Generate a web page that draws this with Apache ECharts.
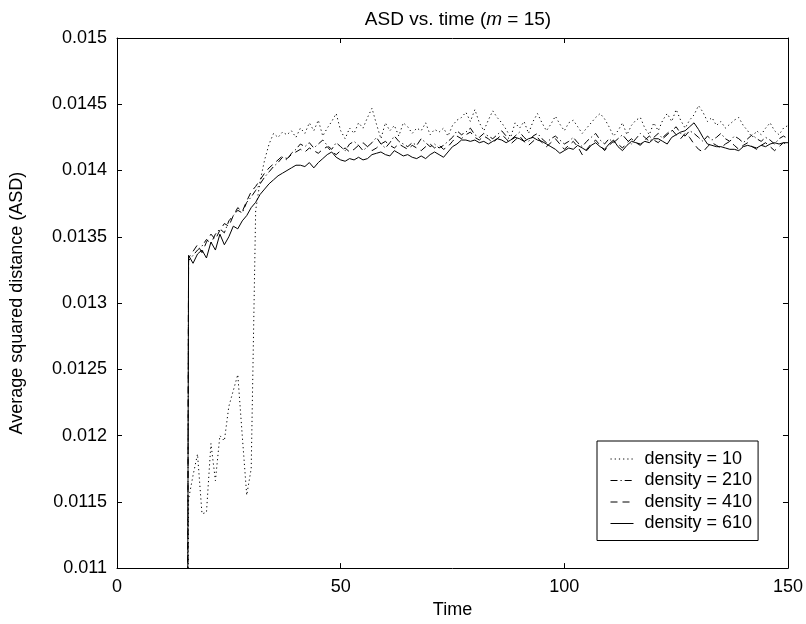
<!DOCTYPE html>
<html>
<head>
<meta charset="utf-8">
<script src="https://cdn.jsdelivr.net/npm/echarts@6/dist/echarts.min.js"></script>
<style>html,body{margin:0;padding:0;background:#fff}#c{width:806px;height:624px}</style>
</head>
<body>
<div id="c"></div>
<script>
// Time steps: one sample per integer time from 15 to 150 (value at t=15 is below the axis range)
const startTime = 15;
const xTicks = [0, 50, 100, 150];
const yTicks = [0.011, 0.0115, 0.012, 0.0125, 0.013, 0.0135, 0.014, 0.0145, 0.015];
const seriesNames = ['density = 10', 'density = 210', 'density = 410', 'density = 610'];

const density10 = [0,
0.01152,0.01170,0.01186,0.01141,0.01142,0.01194,0.01166,0.01200,0.01196,0.01222,
0.01234,0.01246,0.01200,0.01155,0.01175,0.01370,0.01392,0.01408,0.01420,0.01428,
0.01425,0.01429,0.01427,0.01430,0.01425,0.01432,0.01428,0.01436,0.01430,0.01438,
0.01426,0.01432,0.01437,0.01443,0.01430,0.01424,0.01432,0.01428,0.01436,0.01432,
0.01440,0.01447,0.01435,0.01424,0.01436,0.01430,0.01434,0.01426,0.01436,0.01433,
0.01428,0.01432,0.01430,0.01436,0.01427,0.01431,0.01429,0.01432,0.01426,0.01434,
0.01438,0.01440,0.01444,0.01437,0.01446,0.01436,0.01430,0.01438,0.01445,0.01440,
0.01436,0.01431,0.01425,0.01436,0.01432,0.01437,0.01428,0.01437,0.01443,0.01436,
0.01430,0.01435,0.01441,0.01435,0.01430,0.01436,0.01438,0.01433,0.01428,0.01432,
0.01436,0.01440,0.01443,0.01439,0.01433,0.01426,0.01430,0.01436,0.01427,0.01434,
0.01438,0.01440,0.01432,0.01427,0.01436,0.01430,0.01438,0.01443,0.01437,0.01446,
0.01438,0.01432,0.01438,0.01442,0.01449,0.01444,0.01437,0.01440,0.01434,0.01437,
0.01432,0.01435,0.01438,0.01440,0.01434,0.01430,0.01425,0.01430,0.01427,0.01432,
0.01436,0.01430,0.01427,0.01432,0.01434];

const density210 = [0,
0.01332,0.01336,0.01340,0.01343,0.01348,0.01345,0.01352,0.01356,0.01353,0.01362,
0.01366,0.01370,0.01368,0.01376,0.01380,0.01385,0.01390,0.01395,0.01399,0.01403,
0.01406,0.01410,0.01408,0.01413,0.01416,0.01420,0.01418,0.01421,0.01417,0.01420,
0.01423,0.01419,0.01416,0.01421,0.01418,0.01415,0.01420,0.01422,0.01419,0.01415,
0.01418,0.01421,0.01425,0.01420,0.01417,0.01421,0.01426,0.01422,0.01420,0.01418,
0.01421,0.01419,0.01424,0.01421,0.01418,0.01420,0.01417,0.01419,0.01422,0.01425,
0.01430,0.01427,0.01429,0.01432,0.01427,0.01425,0.01428,0.01426,0.01424,0.01427,
0.01430,0.01426,0.01423,0.01426,0.01429,0.01425,0.01422,0.01426,0.01428,0.01424,
0.01421,0.01424,0.01426,0.01423,0.01420,0.01422,0.01425,0.01421,0.01418,0.01422,
0.01425,0.01428,0.01423,0.01420,0.01424,0.01421,0.01424,0.01427,0.01423,0.01420,
0.01424,0.01428,0.01425,0.01422,0.01425,0.01428,0.01424,0.01427,0.01430,0.01433,
0.01428,0.01426,0.01430,0.01428,0.01425,0.01422,0.01426,0.01423,0.01425,0.01428,
0.01424,0.01422,0.01426,0.01424,0.01421,0.01424,0.01427,0.01424,0.01422,0.01425,
0.01423,0.01420,0.01424,0.01426,0.01424];

const density410 = [0,
0.01334,0.01339,0.01344,0.01338,0.01346,0.01352,0.01348,0.01355,0.01360,0.01358,
0.01366,0.01372,0.01369,0.01377,0.01384,0.01388,0.01393,0.01398,0.01402,0.01405,
0.01408,0.01411,0.01409,0.01412,0.01414,0.01416,0.01414,0.01417,0.01415,0.01413,
0.01416,0.01418,0.01414,0.01412,0.01415,0.01417,0.01414,0.01416,0.01419,0.01421,
0.01418,0.01415,0.01417,0.01420,0.01422,0.01419,0.01417,0.01420,0.01418,0.01416,
0.01419,0.01417,0.01415,0.01418,0.01420,0.01417,0.01419,0.01416,0.01418,0.01422,
0.01426,0.01424,0.01427,0.01429,0.01425,0.01423,0.01426,0.01424,0.01421,0.01424,
0.01427,0.01424,0.01420,0.01423,0.01426,0.01422,0.01419,0.01422,0.01425,0.01421,
0.01418,0.01421,0.01424,0.01420,0.01416,0.01419,0.01422,0.01418,0.01412,0.01416,
0.01420,0.01423,0.01419,0.01415,0.01419,0.01422,0.01420,0.01417,0.01421,0.01424,
0.01421,0.01419,0.01423,0.01426,0.01423,0.01421,0.01425,0.01428,0.01431,0.01427,
0.01424,0.01428,0.01425,0.01420,0.01416,0.01414,0.01418,0.01421,0.01419,0.01417,
0.01420,0.01422,0.01419,0.01416,0.01419,0.01421,0.01418,0.01416,0.01419,0.01421,
0.01418,0.01415,0.01418,0.01421,0.01419];

const density610 = [0,
0.01336,0.01330,0.01337,0.01340,0.01334,0.01346,0.01340,0.01352,0.01344,0.01350,
0.01358,0.01356,0.01362,0.01366,0.01372,0.01376,0.01382,0.01386,0.01390,0.01393,
0.01396,0.01398,0.01400,0.01402,0.01404,0.01404,0.01403,0.01406,0.01402,0.01406,
0.01409,0.01412,0.01414,0.01410,0.01408,0.01407,0.01409,0.01408,0.01410,0.01408,
0.01409,0.01412,0.01413,0.01414,0.01412,0.01411,0.01415,0.01413,0.01411,0.01412,
0.01410,0.01409,0.01411,0.01409,0.01412,0.01414,0.01412,0.01410,0.01414,0.01418,
0.01420,0.01423,0.01423,0.01422,0.01423,0.01421,0.01422,0.01420,0.01422,0.01424,
0.01423,0.01421,0.01423,0.01425,0.01424,0.01422,0.01424,0.01425,0.01423,0.01422,
0.01420,0.01418,0.01416,0.01413,0.01415,0.01417,0.01416,0.01419,0.01417,0.01415,
0.01419,0.01421,0.01418,0.01416,0.01420,0.01423,0.01418,0.01415,0.01419,0.01422,
0.01421,0.01420,0.01422,0.01421,0.01424,0.01424,0.01422,0.01420,0.01425,0.01427,
0.01429,0.01430,0.01433,0.01436,0.01431,0.01425,0.01420,0.01419,0.01418,0.01418,
0.01417,0.01416,0.01416,0.01415,0.01418,0.01419,0.01418,0.01417,0.01419,0.01418,
0.01420,0.01421,0.01420,0.01421,0.01421];

const allValues = [density10, density210, density410, density610];
const dashStyles = [[1.2, 3], [7, 3, 1.2, 3], [7, 5], 'solid'];

function pairs(vals) { return vals.map((v, i) => [startTime + i, v]); }

const FONT = 'Liberation Sans, Arial, sans-serif';
const FS = 18;
const chart = echarts.init(document.getElementById('c'), null, { renderer: 'canvas' });

const axisCommon = {
  axisLine: { show: true, onZero: false, lineStyle: { color: '#000', width: 1 } },
  axisTick: { show: true, inside: true, length: 5, lineStyle: { color: '#000' } },
  splitLine: { show: false }
};

chart.setOption({
  animation: false,
  backgroundColor: '#fff',
  title: {
    text: 'ASD vs. time ({i|m} = 15)',
    left: 453, top: 5, textAlign: 'center',
    textStyle: { fontFamily: FONT, fontSize: 19, fontWeight: 'normal', color: '#000',
      rich: { i: { fontStyle: 'italic', fontFamily: FONT, fontSize: 19, color: '#000' } } }
  },
  grid: { left: 117, right: 17, top: 38, bottom: 52, containLabel: false },
  legend: {
    orient: 'vertical', left: 597, top: 441,
    data: seriesNames.map(n => ({ name: n })),
    itemWidth: 23, itemHeight: 14, itemGap: 3.5,
    padding: [9, 6, 8, 13],
    borderColor: '#000', borderWidth: 1, backgroundColor: '#fff',
    itemStyle: { opacity: 0 },
    lineStyle: { width: 1, color: '#000' },
    textStyle: { fontFamily: FONT, fontSize: FS, color: '#000', padding: [0, 0, 0, 6] }
  },
  xAxis: [
    Object.assign({}, axisCommon, {
      type: 'value', min: xTicks[0], max: xTicks[xTicks.length - 1], interval: 50,
      position: 'bottom',
      name: 'Time', nameLocation: 'middle', nameGap: 25,
      nameTextStyle: { fontFamily: FONT, fontSize: FS, color: '#000' },
      axisLabel: { fontFamily: FONT, fontSize: FS, color: '#000', margin: 10 }
    }),
    Object.assign({}, axisCommon, {
      type: 'value', min: xTicks[0], max: xTicks[xTicks.length - 1], interval: 50,
      position: 'top', axisLabel: { show: false }
    })
  ],
  yAxis: [
    Object.assign({}, axisCommon, {
      type: 'value', min: yTicks[0], max: yTicks[yTicks.length - 1], interval: 0.0005,
      position: 'left',
      name: 'Average squared distance (ASD)', nameLocation: 'middle', nameGap: 91,
      nameTextStyle: { fontFamily: FONT, fontSize: FS, color: '#000' },
      axisLabel: { fontFamily: FONT, fontSize: FS, color: '#000', margin: 10,
        formatter: v => String(+v.toFixed(4)) }
    }),
    Object.assign({}, axisCommon, {
      type: 'value', min: yTicks[0], max: yTicks[yTicks.length - 1], interval: 0.0005,
      position: 'right', axisLabel: { show: false }
    })
  ],
  series: seriesNames.map((name, k) => ({
    name: name, type: 'line', xAxisIndex: 0, yAxisIndex: 0,
    data: pairs(allValues[k]),
    symbol: 'none', showSymbol: false, clip: true, z: 2 + (3 - k),
    lineStyle: { color: '#000', width: 1, type: dashStyles[k] },
    itemStyle: { color: '#000' }
  }))
});
</script>
</body>
</html>
